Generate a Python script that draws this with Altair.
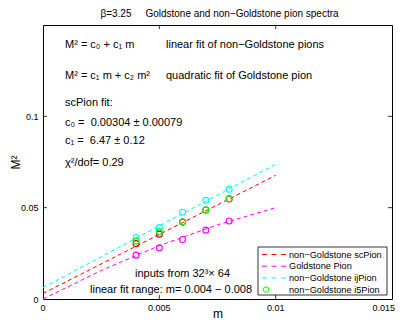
import altair as alt
import pandas as pd

# ---------------- data ----------------
m_values = [0.004, 0.005, 0.006, 0.007, 0.008]
sc_pion = [0.0303, 0.0355, 0.0421, 0.0487, 0.0548]
i5_pion = [0.0317, 0.0369, 0.0423, 0.0488, 0.0549]
ij_pion = [0.0337, 0.0391, 0.0475, 0.0540, 0.0601]
gold_pion = [0.0240, 0.0280, 0.0326, 0.0377, 0.0427]

fit_m_lin = [0.0, 0.01]
fit_sc = [0.00304, 0.0677]
fit_ij = [0.0062, 0.0738]
fit_m_quad = [0.0, 0.0025, 0.005, 0.0075, 0.01]
fit_gold = [0.0, 0.0156, 0.0292, 0.0406, 0.0500]

series_names = ["non\u2212Goldstone scPion", "Goldstone Pion",
                "non\u2212Goldstone ijPion", "non\u2212Goldstone i5Pion"]
series_colors = ["#ff0000", "#ff00ff", "#00ffff", "#00ff00"]
legend_is_marker = [False, False, False, True]

x_ticks = [0, 0.005, 0.01, 0.015]
x_tick_labels = ["0", "0.005", "0.01", "0.015"]
y_ticks = [0, 0.05, 0.1]
x_domain = [0, 0.015]
y_domain = [0, 0.15]

title_text = "\u03b2=3.25\u00a0\u00a0\u00a0\u00a0\u00a0Goldstone and non\u2212Goldstone pion spectra"
note_lines = [
    "M\u00b2 = c\u2080 + c\u2081 m",
    "linear fit of non\u2212Goldstone pions",
    "M\u00b2 = c\u2081 m + c\u2082 m\u00b2",
    "quadratic fit of Goldstone pion",
    "scPion fit:",
    "c\u2080 =\u00a0 0.00304 \u00b1 0.00079",
    "c\u2081 =\u00a0 6.47 \u00b1 0.12",
    "\u03c7\u00b2/dof= 0.29",
    "inputs from 32\u00b3\u00d7 64",
    "linear fit range: m= 0.004 \u2212 0.008",
]

# ---------------- tables ----------------
lines_df = pd.concat([
    pd.DataFrame({"series": series_names[0], "m": fit_m_lin, "M2": fit_sc}),
    pd.DataFrame({"series": series_names[1], "m": fit_m_quad, "M2": fit_gold}),
    pd.DataFrame({"series": series_names[2], "m": fit_m_lin, "M2": fit_ij}),
], ignore_index=True)

points_df = pd.concat([
    pd.DataFrame({"series": series_names[2], "m": m_values, "M2": ij_pion}),
    pd.DataFrame({"series": series_names[1], "m": m_values, "M2": gold_pion}),
    pd.DataFrame({"series": series_names[0], "m": m_values, "M2": sc_pion}),
    pd.DataFrame({"series": series_names[3], "m": m_values, "M2": i5_pion}),
], ignore_index=True)
points_df["order"] = range(len(points_df))

xt_df = pd.DataFrame({"m": x_ticks[1:-1]})
yt_df = pd.DataFrame({"M2": y_ticks[1:]})
xlab_df = pd.DataFrame({"m": x_ticks[:-1], "t": x_tick_labels[:-1]})
xlab_last_df = pd.DataFrame({"m": x_ticks[-1:], "t": x_tick_labels[-1:]})

W, H = 349, 274
FONT = "Liberation Sans"

xscale = alt.Scale(domain=x_domain, nice=False, zero=False)
yscale = alt.Scale(domain=y_domain, nice=False, zero=False)
color_scale = alt.Scale(domain=series_names, range=series_colors)

xaxis = alt.Axis(title="m", values=x_ticks, labels=False, grid=False, ticks=False,
                 tickSize=0, domain=False,
                 titleFont=FONT, titleFontSize=12, titleFontWeight="normal",
                 titleColor="black", titleX=W / 2, titleY=18, titleAlign="center",
                 titleBaseline="alphabetic")
yaxis = alt.Axis(title="M\u00b2", values=y_ticks, format="~g", grid=False, ticks=False,
                 tickSize=0, domain=False, labelFont=FONT, labelFontSize=9,
                 labelColor="black", labelPadding=5, labelFlush=False,
                 titleFont=FONT, titleFontSize=12, titleFontWeight="normal",
                 titleColor="black", titleX=-24, titleY=H / 2, titleAlign="center",
                 titleBaseline="alphabetic", titleAngle=270)

lines = alt.Chart(lines_df).mark_line(strokeDash=[4, 3], strokeWidth=1).encode(
    x=alt.X("m:Q", scale=xscale, axis=xaxis),
    y=alt.Y("M2:Q", scale=yscale, axis=yaxis),
    stroke=alt.Stroke("series:N", scale=color_scale, legend=None),
    detail="series:N",
)

points = alt.Chart(points_df).mark_point(filled=False, size=36, strokeWidth=1.1, opacity=1).encode(
    x=alt.X("m:Q", scale=xscale, axis=xaxis),
    y=alt.Y("M2:Q", scale=yscale, axis=yaxis),
    stroke=alt.Stroke("series:N", scale=color_scale, legend=None),
    order="order:Q",
)

tick_style = dict(color="black", strokeWidth=0.8)
ticks_bottom = alt.Chart(xt_df).mark_rule(**tick_style).encode(
    x=alt.X("m:Q", scale=xscale, axis=xaxis), y=alt.value(H), y2=alt.value(H - 4))
ticks_top = alt.Chart(xt_df).mark_rule(**tick_style).encode(
    x=alt.X("m:Q", scale=xscale, axis=xaxis), y=alt.value(0), y2=alt.value(4))
ticks_left = alt.Chart(yt_df).mark_rule(**tick_style).encode(
    y=alt.Y("M2:Q", scale=yscale, axis=yaxis), x=alt.value(0), x2=alt.value(4))
ticks_right = alt.Chart(yt_df).mark_rule(**tick_style).encode(
    y=alt.Y("M2:Q", scale=yscale, axis=yaxis), x=alt.value(W), x2=alt.value(W - 4))

# x tick labels as text placed through the x scale
xlabels = alt.Chart(xlab_df).mark_text(
    align="center", baseline="alphabetic", font=FONT, fontSize=9, color="black"
).encode(x=alt.X("m:Q", scale=xscale, axis=xaxis), y=alt.value(H + 11.5), text="t:N")
xlabel_last = alt.Chart(xlab_last_df).mark_text(
    align="right", baseline="alphabetic", font=FONT, fontSize=9, color="black", dx=3
).encode(x=alt.X("m:Q", scale=xscale, axis=xaxis), y=alt.value(H + 11.5), text="t:N")

# annotations
note_pos = [(22, 23), (123, 23), (22, 54), (123, 54), (22, 81), (22, 100.5),
            (22, 118.5), (22, 141), (92, 251.5), (47, 268)]
notes = []
for txt, (px, py) in zip(note_lines, note_pos):
    notes.append(
        alt.Chart(pd.DataFrame({"t": [txt]})).mark_text(
            align="left", baseline="alphabetic", font=FONT, fontSize=11, color="black"
        ).encode(x=alt.value(px), y=alt.value(py), text="t:N")
    )

title = alt.Chart(pd.DataFrame({"t": [title_text]})).mark_text(
    align="center", baseline="alphabetic", font=FONT, fontSize=10, color="black"
).encode(x=alt.value(W / 2 + 2), y=alt.value(-8), text="t:N")

# legend box (drawn as a guide in pixel space)
LX0, LX1, LY0, LY1 = 215, 344, 222, 270
ROW0, ROWH = 229.5, 11.7
legend_layers = [
    alt.Chart(pd.DataFrame({"k": [0]})).mark_rect(
        fill="white", stroke="black", strokeWidth=0.8
    ).encode(x=alt.value(LX0), x2=alt.value(LX1), y=alt.value(LY0), y2=alt.value(LY1))
]
for i, (name, col, is_marker) in enumerate(zip(series_names, series_colors, legend_is_marker)):
    yc = ROW0 + i * ROWH
    if is_marker:
        legend_layers.append(
            alt.Chart(pd.DataFrame({"k": [0]})).mark_point(
                filled=False, size=30, strokeWidth=1, color=col, opacity=1
            ).encode(x=alt.value(223), y=alt.value(yc))
        )
    else:
        legend_layers.append(
            alt.Chart(pd.DataFrame({"k": [0]})).mark_rule(
                color=col, strokeWidth=1, strokeDash=[5, 4.5]
            ).encode(x=alt.value(219), x2=alt.value(243), y=alt.value(yc))
        )
    legend_layers.append(
        alt.Chart(pd.DataFrame({"t": [name]})).mark_text(
            align="left", baseline="middle", font=FONT, fontSize=9.2, color="black"
        ).encode(x=alt.value(246), y=alt.value(yc), text="t:N")
    )

chart = alt.layer(lines, points, ticks_bottom, ticks_top, ticks_left, ticks_right,
                  xlabels, xlabel_last, title, *notes, *legend_layers).properties(
    width=W, height=H,
    autosize=alt.AutoSizeParams(type="none"),
    padding={"left": 35, "top": 17, "right": 4, "bottom": 20},
).configure_view(stroke="black", strokeWidth=1)

chart.save("out.html", embed_options={"renderer": "svg", "actions": False})
